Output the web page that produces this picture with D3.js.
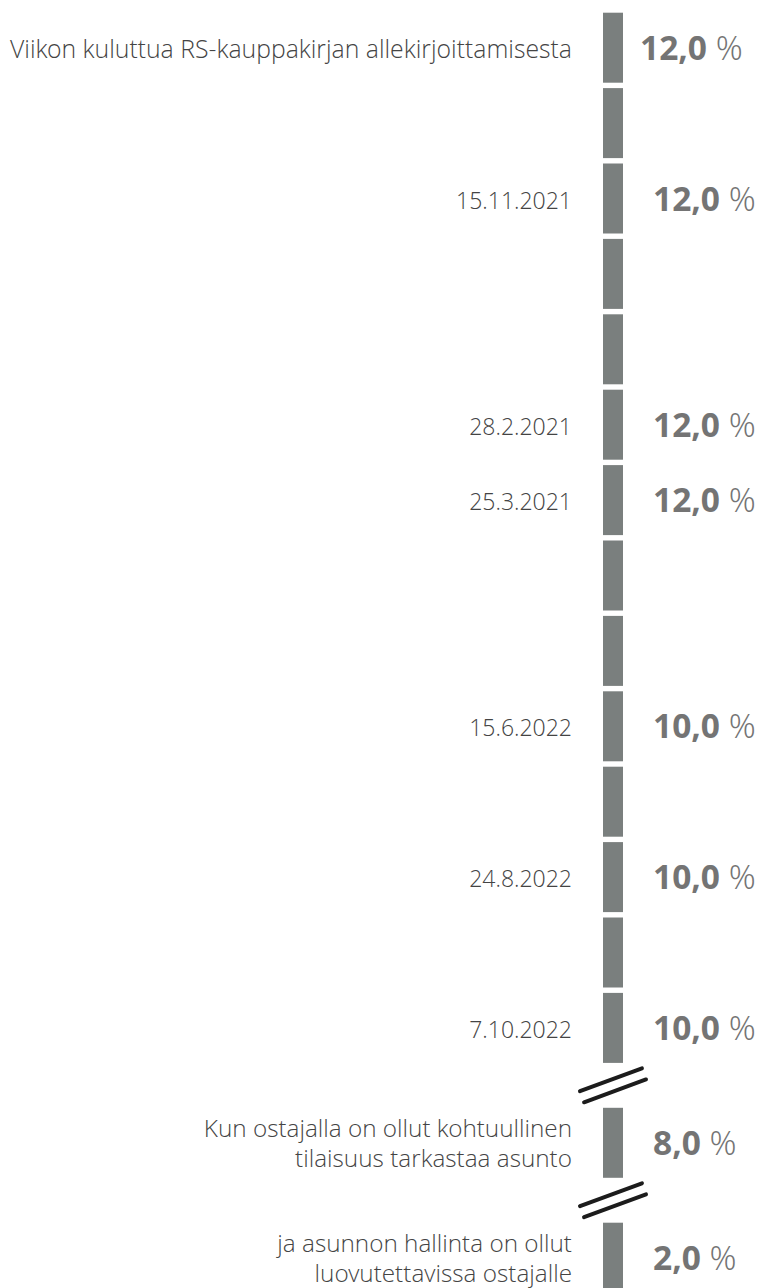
<!DOCTYPE html>
<html lang="fi">
<head>
<meta charset="UTF-8">
<script src="https://cdnjs.cloudflare.com/ajax/libs/d3/7.8.5/d3.min.js"></script>
<style>
body{
  margin: 0;
  background-color: #ffffff;
}
.label{
  font-family: "Open Sans Light", "Open Sans", sans-serif;
  font-weight: 300;
  font-size: 23px;
  fill: #444444;
}
.label.multi{
  font-size: 24.3px;
}
.value{
  font-family: "Open Sans", sans-serif;
  font-weight: 700;
  font-size: 33.5px;
  fill: #747474;
}
.value .pct{
  font-family: "Open Sans Light", "Open Sans", sans-serif;
  font-weight: 300;
}
</style>
</head>
<body>
<div id="main-container"></div>
<script type="text/javascript">
/* global d3 */

// rows: label text (array = several lines), value in %, which segment it sits on
const rowLabels = [
  ["Viikon kuluttua RS-kauppakirjan allekirjoittamisesta"],
  ["15.11.2021"],
  ["28.2.2021"],
  ["25.3.2021"],
  ["15.6.2022"],
  ["24.8.2022"],
  ["7.10.2022"],
  ["Kun ostajalla on ollut kohtuullinen", "tilaisuus tarkastaa asunto"],
  ["ja asunnon hallinta on ollut", "luovutettavissa ostajalle"]
];
const rowValues = [12.0, 12.0, 12.0, 12.0, 10.0, 10.0, 10.0, 8.0, 2.0];
const rowSegment = [0, 2, 5, 6, 9, 11, 13, 14, 15];

// timeline segments and where the axis is broken (break comes before these segments)
const segments = d3.range(16);
const breaksBefore = [14, 15];

const w = 764;
const h = 1288;
const step = 75.4;
const gap = 5.4;
const breakShift = 39.5;
const barX = 603;
const barW = 20;

const svg = d3.select('#main-container').append('svg')
  .attr('width', w).attr('height', h);

const band = d3.scaleBand()
  .domain(segments)
  .range([12.7, 12.7 + segments.length * step - gap])
  .paddingInner(gap / step)
  .paddingOuter(0);

const segY = (i) => band(i) + breakShift * breaksBefore.filter(b => b <= i).length;
const segMid = (i) => segY(i) + band.bandwidth() / 2;

svg.append('g').selectAll('rect').data(segments).enter().append('rect')
  .attr('x', barX)
  .attr('y', d => segY(d))
  .attr('width', barW)
  .attr('height', band.bandwidth())
  .attr('fill', '#7a7f7e');

// break marks: two slanted strokes in the gap
const ang = -20.2 * Math.PI / 180;
const half = 33;
const off = 5.9;
const nx = 0.345, ny = 0.939;
const brk = svg.append('g');
breaksBefore.forEach(b => {
  const cy = (segY(b - 1) + band.bandwidth() + segY(b)) / 2;
  const cx = barX + barW / 2;
  [-off, off].forEach(o => {
    const mx = cx + o * nx, my = cy + o * ny;
    brk.append('line')
      .attr('x1', mx - half * Math.cos(ang)).attr('y1', my - half * Math.sin(ang))
      .attr('x2', mx + half * Math.cos(ang)).attr('y2', my + half * Math.sin(ang))
      .attr('stroke', '#1c1c1c')
      .attr('stroke-width', 4)
      .attr('stroke-linecap', 'round');
  });
});

const fmt = (v) => d3.format('.1f')(v).replace('.', ',');

const rows = svg.append('g').selectAll('g').data(rowLabels).enter().append('g');

rows.each(function(lines, i) {
  const g = d3.select(this);
  const mid = segMid(rowSegment[i]);
  const t = g.append('text').attr('class', 'label').attr('text-anchor', 'end');
  if (lines.length === 1) {
    t.append('tspan').attr('x', 572).attr('y', mid + 10).text(lines[0]);
  } else {
    t.classed('multi', true);
    lines.forEach((l, k) => {
      t.append('tspan').attr('x', 572).attr('y', mid - 6 + k * 30).text(l);
    });
  }
  if (i === 0) {
    t.style('font-size', '25px');
    t.select('tspan').attr('textLength', 562).attr('lengthAdjust', 'spacingAndGlyphs');
  }

  const v = g.append('text').attr('class', 'value')
    .attr('x', i === 0 ? 640 : 653)
    .attr('y', mid + 12);
  v.append('tspan').text(fmt(rowValues[i]) + ' ');
  v.append('tspan').attr('class', 'pct').text('%');
});
</script>
</body>
</html>
